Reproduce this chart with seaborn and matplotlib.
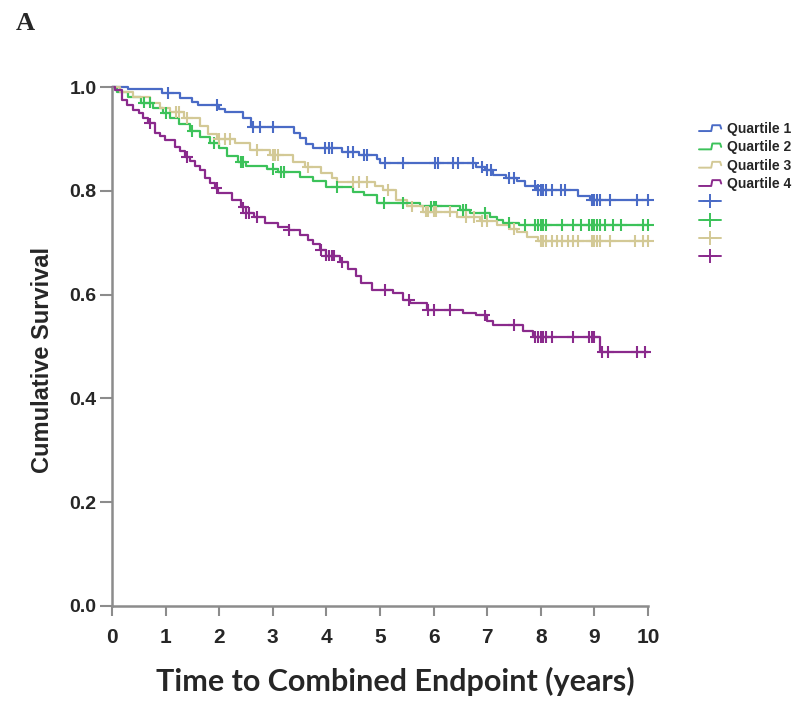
import numpy as np
import pandas as pd
import matplotlib
matplotlib.use("Agg")
import matplotlib.pyplot as plt
from matplotlib.lines import Line2D
from matplotlib.legend_handler import HandlerLine2D
from matplotlib import font_manager
import seaborn as sns

# ---------------- data ----------------
groups = ["Quartile 1", "Quartile 2", "Quartile 3", "Quartile 4"]
colors = ["#4a6bc6", "#3cc25a", "#d3c996", "#8a2a8c"]

q1_t = [0, 0.3, 0.93, 1.27, 1.5, 1.6, 2.0, 2.1, 2.45, 2.6, 3.4, 3.5, 3.62, 3.75, 4.3, 4.6, 4.95, 5.0,
        6.8, 6.95, 7.1, 7.35, 7.55, 7.7, 7.93, 8.7, 8.92]
q1_s = [1.0, 0.996, 0.988, 0.979, 0.972, 0.965, 0.957, 0.951, 0.94, 0.923, 0.912, 0.902, 0.891, 0.882,
        0.875, 0.869, 0.862, 0.854, 0.846, 0.84, 0.831, 0.825, 0.818, 0.81, 0.801, 0.79, 0.782]
q1_c = [1.05, 1.95, 2.63, 2.76, 3.0, 3.97, 4.05, 4.1, 4.4, 4.5, 4.7, 4.75, 5.1, 5.43, 6.03, 6.08, 6.36, 6.45,
        6.73, 6.9, 7.0, 7.08, 7.4, 7.5, 7.9, 7.95, 8.0, 8.05, 8.1, 8.2, 8.38, 8.46, 8.95, 9.0, 9.05, 9.1,
        9.3, 9.8, 10.0]

q2_t = [0, 0.1, 0.3, 0.55, 0.77, 0.95, 1.08, 1.25, 1.46, 1.65, 1.83, 2.0, 2.14, 2.35, 2.5, 2.9, 3.1, 3.5,
        3.75, 4.0, 4.5, 4.7, 4.94, 5.75, 6.5, 6.68, 7.05, 7.18, 7.3, 7.6]
q2_s = [1.0, 0.99, 0.98, 0.97, 0.96, 0.95, 0.94, 0.928, 0.915, 0.903, 0.892, 0.882, 0.868, 0.856, 0.848,
        0.842, 0.836, 0.827, 0.818, 0.807, 0.798, 0.792, 0.776, 0.77, 0.763, 0.757, 0.75, 0.744, 0.738, 0.734]
q2_c = [0.6, 0.7, 1.0, 1.5, 1.9, 2.4, 2.45, 3.0, 3.15, 3.2, 4.2, 5.07, 5.43, 5.95, 6.0, 6.05, 6.55, 6.6,
        6.95, 7.4, 7.7, 7.9, 7.95, 8.0, 8.05, 8.1, 8.4, 8.6, 8.75, 8.9, 8.95, 9.0, 9.05, 9.1, 9.2, 9.35,
        9.5, 9.9, 10.0]

q3_t = [0, 0.15, 0.4, 0.71, 0.9, 1.08, 1.35, 1.64, 1.8, 1.95, 2.3, 2.57, 2.95, 3.38, 3.6, 3.9, 4.1,
        4.2, 4.9, 5.05, 5.3, 5.5, 5.8, 6.43, 6.87, 7.18, 7.43, 7.55, 7.74, 7.95]
q3_s = [1.0, 0.99, 0.981, 0.969, 0.96, 0.952, 0.94, 0.924, 0.91, 0.9, 0.893, 0.879, 0.869, 0.856, 0.845,
        0.834, 0.825, 0.817, 0.81, 0.802, 0.782, 0.77, 0.76, 0.75, 0.742, 0.734, 0.726, 0.721, 0.711, 0.703]
q3_c = [1.2, 1.25, 1.4, 2.0, 2.1, 2.2, 2.7, 3.0, 3.05, 3.1, 3.65, 4.5, 4.6, 4.75, 5.15, 5.6, 5.85, 5.9, 6.0,
        6.05, 6.3, 6.6, 6.75, 6.9, 7.0, 7.5, 8.0, 8.05, 8.1, 8.2, 8.3, 8.4, 8.5, 8.6, 8.7, 8.95, 9.0,
        9.05, 9.1, 9.3, 9.75, 9.9, 10.0]

q4_t = [0, 0.06, 0.18, 0.28, 0.4, 0.5, 0.58, 0.68, 0.8, 0.9, 0.99, 1.18, 1.27, 1.36, 1.46, 1.55, 1.64,
        1.73, 1.83, 1.92, 1.98, 2.24, 2.4, 2.5, 2.65, 2.85, 3.1, 3.3, 3.5, 3.65, 3.75, 3.88, 4.0, 4.25,
        4.4, 4.55, 4.65, 4.85, 5.24, 5.43, 5.56, 5.87, 6.55, 6.8, 7.0, 7.1, 7.67, 7.85, 9.1]
q4_s = [1.0, 0.994, 0.975, 0.965, 0.956, 0.95, 0.94, 0.93, 0.911, 0.905, 0.898, 0.884, 0.876, 0.865,
        0.858, 0.848, 0.84, 0.824, 0.815, 0.805, 0.796, 0.782, 0.768, 0.757, 0.75, 0.738, 0.73, 0.725,
        0.715, 0.706, 0.697, 0.686, 0.675, 0.662, 0.65, 0.635, 0.622, 0.609, 0.603, 0.59, 0.584, 0.57,
        0.564, 0.56, 0.55, 0.541, 0.53, 0.518, 0.489]
q4_c = [0.7, 1.4, 1.95, 2.45, 2.5, 2.55, 2.7, 3.3, 3.9, 4.0, 4.05, 4.1, 4.15, 4.3, 5.1, 5.55, 5.9, 6.0,
        6.3, 6.95, 7.5, 7.9, 7.95, 8.0, 8.05, 8.1, 8.2, 8.6, 8.9, 8.95, 9.0, 9.15, 9.25, 9.8, 9.95]

x_ticks = [0, 1, 2, 3, 4, 5, 6, 7, 8, 9, 10]
y_ticks = [0.0, 0.2, 0.4, 0.6, 0.8, 1.0]
max_follow = 10.0

# ---------------- build frames ----------------
steps, cens = [], []
for g, t, s, c in zip(groups, [q1_t, q2_t, q3_t, q4_t], [q1_s, q2_s, q3_s, q4_s], [q1_c, q2_c, q3_c, q4_c]):
    tt = list(t) + [max_follow]
    ss = list(s) + [s[-1]]
    steps.append(pd.DataFrame({"time": tt, "surv": ss, "group": g}))
    t_arr = np.array(t)
    s_arr = np.array(s)
    idx = np.searchsorted(t_arr, np.array(c), side="right") - 1
    cens.append(pd.DataFrame({"time": c, "surv": s_arr[idx], "group": g}))
df_steps = pd.concat(steps, ignore_index=True)
df_cens = pd.concat(cens, ignore_index=True)

# ---------------- fonts ----------------
sns.set_style("white")
avail = {f.name for f in font_manager.fontManager.ttflist}
narrow = "Liberation Sans Narrow" if "Liberation Sans Narrow" in avail else "Liberation Sans"
plt.rcParams["font.family"] = ["Liberation Sans", "DejaVu Sans"]

fig = plt.figure(figsize=(8.09, 7.05), dpi=100)
ax = fig.add_axes([112 / 809, 1 - 606 / 705, (648 - 112) / 809, (606 - 87) / 705])

palette = dict(zip(groups, colors))
sns.lineplot(data=df_steps, x="time", y="surv", hue="group", palette=palette, estimator=None,
             sort=False, drawstyle="steps-post", linewidth=1.6, legend=False, ax=ax)
sns.scatterplot(data=df_cens, x="time", y="surv", hue="group", palette=palette, marker="+",
                s=70, linewidth=1.5, legend=False, ax=ax, zorder=3)

ax.set_xlim(0, 10)
ax.set_ylim(0, 1.0)
ax.set_xticks(x_ticks)
ax.set_yticks(y_ticks)
ax.set_xticklabels([str(v) for v in x_ticks], fontfamily=narrow, fontweight="bold", fontsize=15)
ax.set_yticklabels([f"{v:.1f}" for v in y_ticks], fontfamily=narrow, fontweight="bold", fontsize=14)
for sp in ["top", "right"]:
    ax.spines[sp].set_visible(False)
for sp in ["left", "bottom"]:
    ax.spines[sp].set_color("#8c8c8c")
    ax.spines[sp].set_linewidth(1.8)
ax.tick_params(axis="x", direction="out", length=7.5, width=1.5, color="#8c8c8c", pad=8, bottom=True)
ax.tick_params(axis="y", direction="out", length=9, width=1.5, color="#8c8c8c", pad=2, left=True)
for coll in ax.collections:
    coll.set_clip_on(False)
for ln in ax.lines:
    ln.set_clip_on(False)

ax.set_xlabel("Time to Combined Endpoint (years)", fontfamily=["Lato", "DejaVu Sans"],
              fontweight="bold", fontsize=22)
ax.set_ylabel("Cumulative Survival", fontfamily=["Liberation Sans", "DejaVu Sans"],
              fontweight="bold", fontsize=17)
ax.xaxis.set_label_coords(0.528, -0.117)
ax.yaxis.set_label_coords(-0.108, 0.474)

fig.text(16 / 809, 1 - 23 / 705, "A", fontfamily=["Liberation Serif", "DejaVu Serif"],
         fontweight="bold", fontsize=19, va="center", ha="left")


class StepHandler(HandlerLine2D):
    def create_artists(self, legend, orig_handle, xdescent, ydescent, width, height, fontsize, trans):
        x0, x1 = -xdescent, -xdescent + width
        ylo = -ydescent + height * 0.2
        yhi = -ydescent + height * 0.8
        xs = [x0, x0 + 0.55 * width, x0 + 0.6 * width, x0 + 0.95 * width, x1]
        ys = [ylo, ylo, yhi, yhi, ylo + 0.25 * height]
        ln = Line2D(xs, ys, color=orig_handle.get_color(), lw=orig_handle.get_linewidth())
        ln.set_transform(trans)
        return [ln]


step_handles = [Line2D([0], [0], color=c, lw=1.4) for c in colors]
cross_handles = [Line2D([0], [0], color=c, lw=1.4, marker="+", markersize=10, mew=1.4) for c in colors]
handles = step_handles + cross_handles
labels = groups + ["", "", "", ""]
hmap = {h: StepHandler() for h in step_handles}
leg = fig.legend(handles, labels, loc="upper left", bbox_to_anchor=(699 / 809, 1 - 122 / 705),
                 frameon=False, prop={"family": "Liberation Sans", "weight": "bold", "size": 10},
                 handlelength=1.6, handletextpad=0.4, labelspacing=0.31, borderaxespad=0,
                 borderpad=0, handler_map=hmap)

fig.savefig("out.png", dpi=100)
